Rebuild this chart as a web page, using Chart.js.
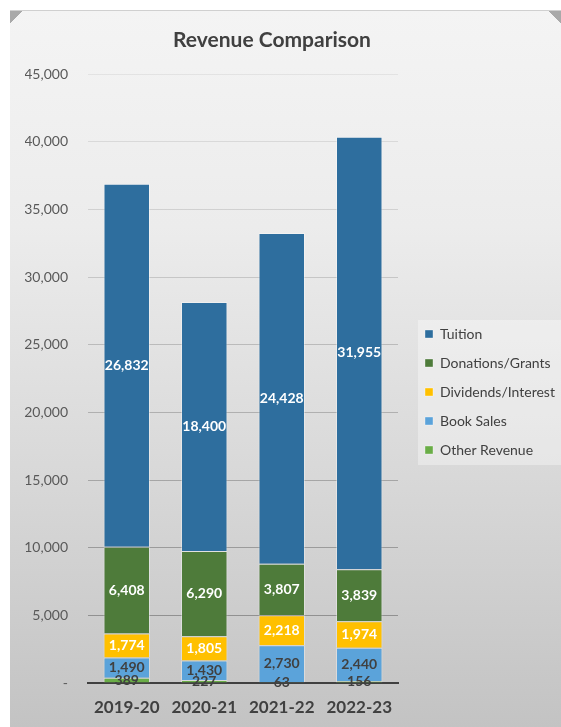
<!DOCTYPE html>
<html>
<head>
<meta charset="utf-8">
<script src="https://cdn.jsdelivr.net/npm/chart.js@4.4.1/dist/chart.umd.min.js"></script>
<style>
  html, body { margin: 0; padding: 0; background: #fff; }
  #wrap { position: relative; width: 561px; height: 727px; overflow: hidden; }
  #panel {
    position: absolute; left: 10px; top: 10px; width: 551px; height: 717px;
    background:
      linear-gradient(135deg, #a9a9a9 0, #a9a9a9 9px, transparent 9px),
      linear-gradient(225deg, #a9a9a9 0, #a9a9a9 9px, transparent 9px),
      linear-gradient(to bottom, #f4f4f4 0%, #ececec 30%, #d8d8d8 65%, #c3c3c3 100%);
    border-top: 1px solid #d0d0d0;
  }
  canvas { position: absolute; left: 0; top: 0; }
</style>
</head>
<body>
<div id="wrap">
  <div id="panel"></div>
  <canvas id="revChart" width="561" height="727"></canvas>
</div>
<script>
const years = ['2019-20', '2020-21', '2021-22', '2022-23'];
const otherRevenue = [389, 227, 63, 156];
const bookSales = [1490, 1430, 2730, 2440];
const dividends = [1774, 1805, 2218, 1974];
const donations = [6408, 6290, 3807, 3839];
const tuition = [26832, 18400, 24428, 31955];
const yTicks = [0, 5000, 10000, 15000, 20000, 25000, 30000, 35000, 40000, 45000];

const fontFam = 'Lato, "Open Sans", sans-serif';
const fmt = v => v.toLocaleString('en-US');

// light box behind the legend
const legendBg = {
    id: 'legendBg',
    beforeDraw(chart) {
        const c = chart.ctx;
        c.save();
        c.fillStyle = 'rgba(255,255,255,0.35)';
        c.fillRect(418, 320, 143, 145);
        c.restore();
    }
};

// value labels in the middle of each segment
const segLabels = {
    id: 'segLabels',
    afterDatasetsDraw(chart) {
        const c = chart.ctx;
        c.save();
        c.font = 'bold 14px ' + fontFam;
        c.textAlign = 'center';
        c.textBaseline = 'middle';
        chart.data.datasets.forEach((ds, i) => {
            const meta = chart.getDatasetMeta(i);
            meta.data.forEach((bar, j) => {
                c.fillStyle = ds.labelColor;
                c.fillText(fmt(ds.data[j]), bar.x, (bar.y + bar.base) / 2);
            });
        });
        c.restore();
    }
};

// title drawn a little left of centre, like the original
const titleText = {
    id: 'titleText',
    afterDraw(chart) {
        const c = chart.ctx;
        c.save();
        c.font = 'bold 21px ' + fontFam;
        c.fillStyle = '#404040';
        c.textAlign = 'center';
        c.textBaseline = 'middle';
        c.fillText('Revenue Comparison', 272, 40);
        c.restore();
    }
};

const border = 'rgba(255,255,255,0.35)';

function draw() {
    const chart = new Chart(document.getElementById('revChart').getContext('2d'), {
        type: 'bar',
        data: {
            labels: years,
            datasets: [
                { label: 'Other Revenue', data: otherRevenue, backgroundColor: '#6aad47', labelColor: '#404040' },
                { label: 'Book Sales', data: bookSales, backgroundColor: '#5ba3da', labelColor: '#404040' },
                { label: 'Dividends/Interest', data: dividends, backgroundColor: '#ffc000', labelColor: '#ffffff' },
                { label: 'Donations/Grants', data: donations, backgroundColor: '#4e7b3a', labelColor: '#ffffff' },
                { label: 'Tuition', data: tuition, backgroundColor: '#2e6e9e', labelColor: '#ffffff' }
            ].map(d => Object.assign(d, {
                borderColor: border,
                borderWidth: 1,
                categoryPercentage: 1,
                barPercentage: 0.6
            }))
        },
        options: {
            responsive: false,
            animation: false,
            layout: {
                padding: { left: 25, right: 0, top: 74, bottom: 7 }
            },
            plugins: {
                title: { display: false },
                tooltip: { enabled: false },
                legend: {
                    position: 'right',
                    reverse: true,
                    labels: {
                        boxWidth: 8,
                        boxHeight: 8,
                        padding: 15,
                        color: '#404040',
                        font: { family: fontFam, size: 14 }
                    }
                }
            },
            scales: {
                x: {
                    stacked: true,
                    afterFit: scale => { scale.height = 37; },
                    grid: { display: false, drawTicks: false },
                    border: { color: '#404040', width: 2 },
                    ticks: {
                        color: '#404040',
                        padding: 14,
                        autoSkip: false,
                        maxRotation: 0,
                        minRotation: 0,
                        font: { family: fontFam, size: 17, weight: 'bold' }
                    }
                },
                y: {
                    stacked: true,
                    min: 0,
                    max: 45000,
                    afterBuildTicks: scale => {
                        scale.ticks = yTicks.map(v => ({ value: v }));
                    },
                    afterFit: scale => { scale.width = 63; },
                    border: { display: false },
                    grid: {
                        drawTicks: false,
                        color: ctx => {
                            const a = 0.06 + 0.26 * (1 - ctx.tick.value / 45000);
                            return 'rgba(0,0,0,' + a.toFixed(3) + ')';
                        }
                    },
                    ticks: {
                        color: '#595959',
                        padding: 20,
                        font: { family: fontFam, size: 14 },
                        callback: v => v === 0 ? '-' : fmt(v)
                    }
                }
            }
        },
        plugins: [legendBg, segLabels, titleText]
    });

    // give the legend the wider slot it has in the original
    const lg = chart.legend;
    const fit0 = lg.fit;
    lg.fit = function () { fit0.call(this); this.width = 163; };
    const draw0 = lg.draw;
    lg.draw = function () {
        this.ctx.save();
        this.ctx.translate(12, -5);
        draw0.call(this);
        this.ctx.restore();
    };
    chart.update();
}

Promise.all([
    document.fonts.load('14px Lato'),
    document.fonts.load('bold 14px Lato')
]).then(draw, draw);
</script>
</body>
</html>
